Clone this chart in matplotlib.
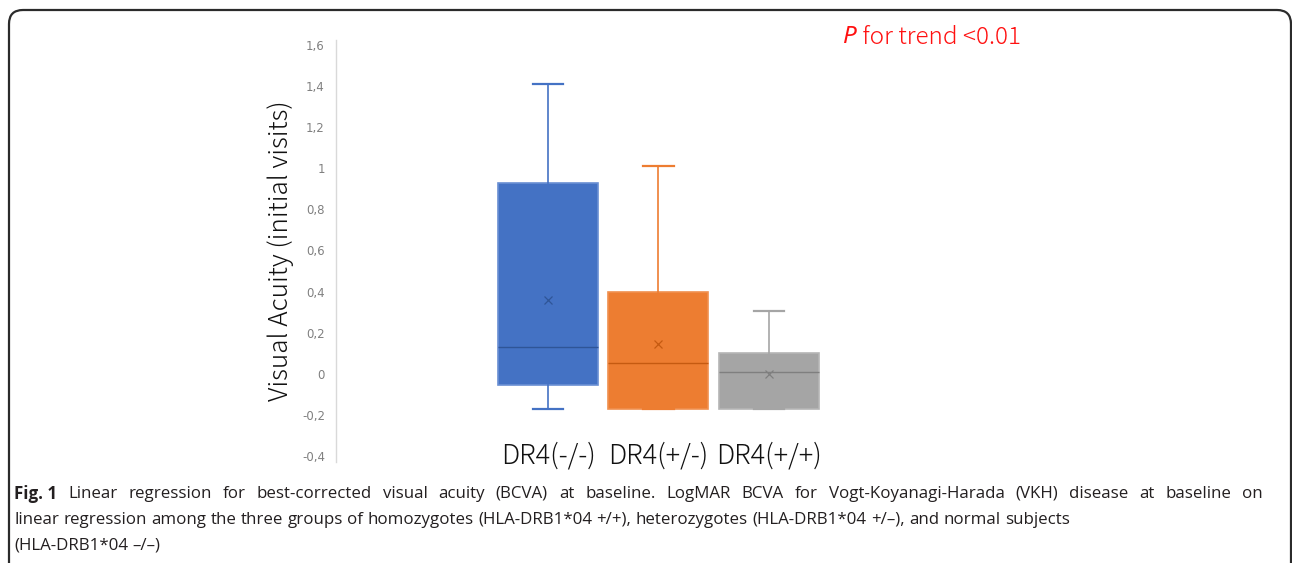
import matplotlib
matplotlib.use('Agg')
import matplotlib.pyplot as plt
from matplotlib.patches import FancyBboxPatch
from matplotlib.transforms import IdentityTransform

# data (LogMAR BCVA at baseline)
groups = ['DR4(-/-)', 'DR4(+/-)', 'DR4(+/+)']
whislo = [-0.17, -0.17, -0.17]
q1 = [-0.055, -0.17, -0.17]
med = [0.13, 0.05, 0.01]
q3 = [0.93, 0.40, 0.10]
whishi = [1.41, 1.01, 0.305]
means = [0.36, 0.145, 0.0]
fills = ['#4472C4', '#ED7D31', '#A5A5A5']
edges = ['#6A8FD3', '#F0904F', '#B5B5B5']
darks = ['#2F5597', '#C55A11', '#7F7F7F']

yticks = [-0.4, -0.2, 0, 0.2, 0.4, 0.6, 0.8, 1, 1.2, 1.4, 1.6]
ytick_labels = ['-0,4', '-0,2', '0', '0,2', '0,4', '0,6', '0,8', '1', '1,2', '1,4', '1,6']

caption_lines = [
    ('Fig. 1', 'Linear regression for best-corrected visual acuity (BCVA) at baseline. '
               'LogMAR BCVA for Vogt-Koyanagi-Harada (VKH) disease at baseline on'),
    ('', 'linear regression among the three groups of homozygotes (HLA-DRB1*04 +/+), '
         'heterozygotes (HLA-DRB1*04 +/\u2013), and normal subjects'),
    ('', '(HLA-DRB1*04 \u2013/\u2013)'),
]
justify = [True, False, False]

W, H = 1292, 563
fig = plt.figure(figsize=(W / 100, H / 100), dpi=100)
jp = ['Noto Sans CJK JP', 'DejaVu Sans']

# rounded frame around the figure panel
frame = FancyBboxPatch((9, -30), 1282, H - 10 + 30, boxstyle='round,pad=0,rounding_size=14',
                       transform=IdentityTransform(), fill=False, edgecolor='#2b2b2b', linewidth=1.6)
fig.patches.append(frame)

ax = fig.add_axes([336 / W, 101 / H, (900 - 336) / W, (462 - 40) / H])
positions = [1, 2, 3]
for i in range(len(groups)):
    s = dict(whislo=whislo[i], q1=q1[i], med=med[i], q3=q3[i], whishi=whishi[i],
             mean=means[i], label=groups[i])
    ax.bxp([s], positions=[positions[i]], widths=0.905, patch_artist=True, showmeans=True,
           showfliers=False, capwidths=[0.28],
           boxprops=dict(facecolor=fills[i], edgecolor=edges[i], linewidth=1.2),
           medianprops=dict(color=darks[i], linewidth=1.0),
           whiskerprops=dict(color=fills[i], linewidth=1.2),
           capprops=dict(color=fills[i], linewidth=1.6),
           meanprops=dict(marker='x', markeredgecolor=darks[i], markersize=6, markeredgewidth=0.9))

ax.set_xlim(-0.919, 4.186)
ax.set_ylim(-0.43, 1.625)
ax.set_yticks(yticks)
ax.set_yticklabels(ytick_labels, color='#808080', fontsize=8.5)
ax.set_xticks(positions)
ax.set_xticklabels(groups, fontsize=19.5, family=jp, weight='light', color='#111111')
ax.tick_params(axis='y', length=0, pad=8)
ax.tick_params(axis='x', length=0, pad=-15)
for sp in ['top', 'right', 'bottom']:
    ax.spines[sp].set_visible(False)
ax.spines['left'].set_color('#d9d9d9')
ax.spines['left'].set_linewidth(1.0)
ax.set_ylabel('Visual Acuity (initial visits)', fontsize=18.8, labelpad=6,
              family=jp, weight='light', color='#111111')

# p-value note
p = fig.text(843 / W, 1 - 37 / H, 'P', color='#FF1010', fontsize=17.5, style='italic',
             va='center', family='Noto Sans', weight='light')
ax.annotate(' for trend <0.01', xy=(1, 0.5), xycoords=p, va='center', ha='left',
            color='#FF1010', fontsize=17.5, family=jp, weight='light',
            annotation_clip=False)

# caption (first line justified between the frame margins)
cap_font = 'Open Sans'
cap_size = 12.2
cap_col = '#231f20'
line_y = [494, 520, 546]
x0, x1 = 14, 1263
renderer = fig.canvas.get_renderer()
for (bold, rest), yy, just in zip(caption_lines, line_y, justify):
    words = rest.split(' ')
    items = []
    if bold:
        items.append((bold, 'bold'))
    items += [(w, 'normal') for w in words]
    arts = []
    for txt, wt in items:
        t = fig.text(0, 1 - yy / H, txt, fontsize=cap_size, weight=wt, va='center',
                     family=cap_font, color=cap_col, transform=IdentityTransform())
        arts.append(t)
    widths = [a.get_window_extent(renderer).width for a in arts]
    space = fig.text(0, 0, 'a a', fontsize=cap_size, family=cap_font).get_window_extent(renderer).width \
        - fig.text(0, 0, 'aa', fontsize=cap_size, family=cap_font).get_window_extent(renderer).width
    fig.texts[-2:] = []
    if just and len(arts) > 1:
        gap = (x1 - x0 - sum(widths)) / (len(arts) - 1)
    else:
        gap = space
    x = x0
    for a, w in zip(arts, widths):
        a.set_position((x, H - yy))
        x += w + gap

fig.savefig('out.png', dpi=100)
